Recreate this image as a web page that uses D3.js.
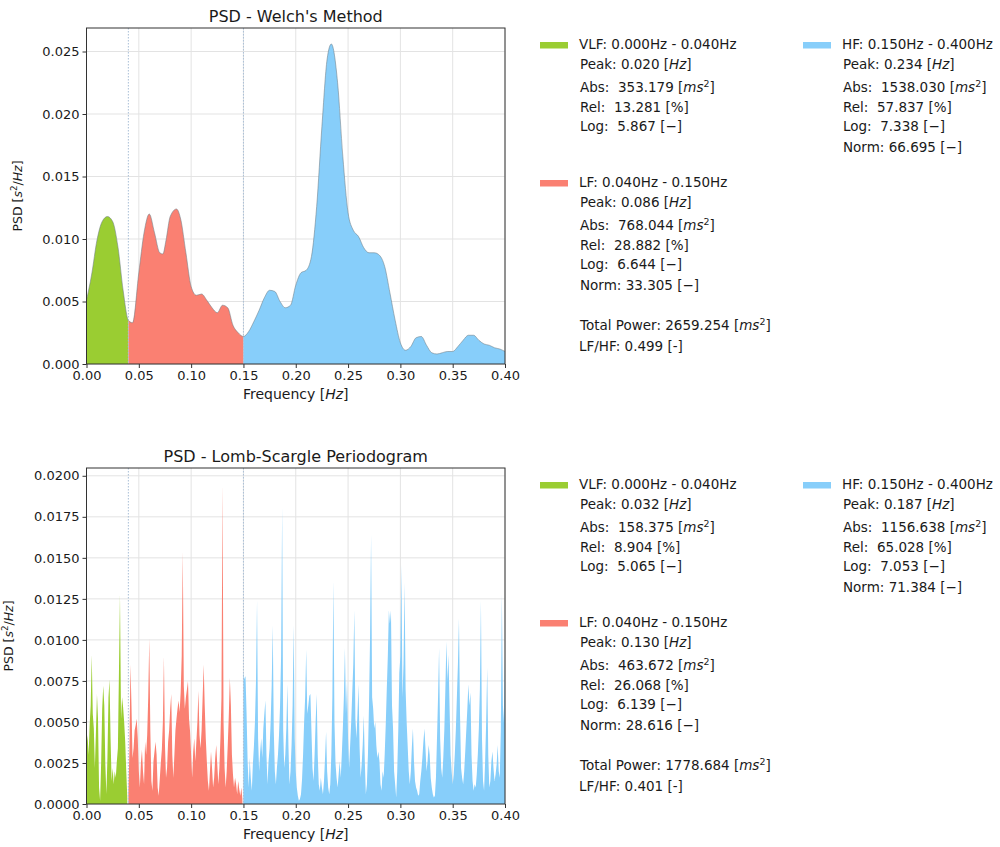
<!DOCTYPE html>
<html>
<head>
<meta charset="utf-8">
<script src="https://cdn.jsdelivr.net/npm/d3@7"></script>
<style>
  body { margin: 0; background: #fff; }
  svg text { font-family: "DejaVu Sans", sans-serif; fill: #1a1a1a; white-space: pre; }
</style>
</head>
<body>
<svg id="chart" width="1000" height="847"></svg>
<script>
// ---- data -------------------------------------------------------------
const freqTicks = [0.00, 0.05, 0.10, 0.15, 0.20, 0.25, 0.30, 0.35, 0.40];
const welchTicks = [0.000, 0.005, 0.010, 0.015, 0.020, 0.025];
const lombTicks = [0.0000, 0.0025, 0.0050, 0.0075, 0.0100, 0.0125, 0.0150, 0.0175, 0.0200];

const bandNames = ["VLF", "LF", "HF"];
const bandLimits = [[0.000, 0.040], [0.040, 0.150], [0.150, 0.400]];

// Welch spectrum [Hz] / [s^2/Hz]
const welchFreq = [0.000, 0.005, 0.010, 0.015, 0.020, 0.025, 0.030, 0.035, 0.040, 0.044,
  0.050, 0.055, 0.060, 0.065, 0.070, 0.073, 0.076, 0.080, 0.086, 0.090,
  0.095, 0.100, 0.105, 0.110, 0.115, 0.120, 0.125, 0.130, 0.135, 0.140,
  0.145, 0.150, 0.155, 0.160, 0.165, 0.170, 0.175, 0.180, 0.185, 0.190,
  0.195, 0.200, 0.205, 0.210, 0.215, 0.220, 0.225, 0.230, 0.234, 0.240,
  0.245, 0.250, 0.255, 0.260, 0.265, 0.270, 0.275, 0.280, 0.285, 0.290,
  0.295, 0.300, 0.305, 0.310, 0.315, 0.320, 0.325, 0.330, 0.335, 0.340,
  0.345, 0.350, 0.355, 0.360, 0.365, 0.370, 0.375, 0.380, 0.385, 0.390,
  0.395, 0.400];
const welchPsd = [0.0051, 0.0072, 0.0099, 0.0114, 0.0118, 0.0114, 0.0094, 0.0059, 0.0035, 0.0033,
  0.0073, 0.0105, 0.0120, 0.0105, 0.0089, 0.0088, 0.0099, 0.0118, 0.0124, 0.0116,
  0.0089, 0.0062, 0.0055, 0.0056, 0.0051, 0.0045, 0.0041, 0.0047, 0.0045, 0.0031,
  0.0025, 0.0022, 0.0026, 0.0034, 0.0043, 0.0053, 0.0059, 0.0058, 0.0050, 0.0045,
  0.0047, 0.0063, 0.0073, 0.0075, 0.0086, 0.0126, 0.0190, 0.0244, 0.0256, 0.0225,
  0.0166, 0.0121, 0.0107, 0.0102, 0.0093, 0.0089, 0.0089, 0.0087, 0.0078, 0.0057,
  0.0035, 0.0017, 0.0011, 0.0014, 0.0021, 0.0022, 0.0015, 0.0009, 0.0008, 0.0009,
  0.0010, 0.0010, 0.0014, 0.0019, 0.0023, 0.0023, 0.0019, 0.0016, 0.0015, 0.0013,
  0.0012, 0.0010];

// Lomb-Scargle spectrum, one value every 0.001 Hz from 0.000 to 0.400 Hz
const lombStep = 0.001;
const lombPsd = [
  0.0035,0.0042,0.0030,0.0048,0.0060,0.0091,0.0055,0.0046,0.0022,0.0044,
  0.0067,0.0052,0.0010,0.0002,0.0025,0.0058,0.0072,0.0060,0.0024,0.0006,
  0.0028,0.0065,0.0076,0.0040,0.0014,0.0022,0.0012,0.0020,0.0016,0.0026,
  0.0034,0.0080,0.0128,0.0052,0.0065,0.0059,0.0050,0.0038,0.0020,0.0004,
  0.0006,0.0032,0.0085,0.0060,0.0028,0.0034,0.0045,0.0048,0.0052,0.0040,
  0.0020,0.0010,0.0025,0.0033,0.0020,0.0012,0.0038,0.0030,0.0042,0.0065,
  0.0101,0.0045,0.0014,0.0008,0.0026,0.0032,0.0038,0.0030,0.0010,0.0005,
  0.0015,0.0025,0.0033,0.0050,0.0090,0.0036,0.0016,0.0022,0.0038,0.0045,
  0.0058,0.0067,0.0030,0.0016,0.0030,0.0045,0.0052,0.0058,0.0063,0.0056,
  0.0068,0.0090,0.0154,0.0072,0.0058,0.0065,0.0070,0.0075,0.0052,0.0044,
  0.0030,0.0016,0.0032,0.0040,0.0026,0.0038,0.0050,0.0069,0.0042,0.0034,
  0.0045,0.0065,0.0085,0.0060,0.0040,0.0026,0.0014,0.0008,0.0020,0.0032,
  0.0022,0.0010,0.0016,0.0028,0.0036,0.0024,0.0012,0.0022,0.0040,0.0065,
  0.0195,0.0050,0.0022,0.0010,0.0020,0.0036,0.0054,0.0077,0.0060,0.0030,
  0.0018,0.0010,0.0016,0.0012,0.0006,0.0014,0.0009,0.0005,0.0010,0.0003,
  0.0080,0.0076,0.0078,0.0055,0.0026,0.0010,0.0028,0.0016,0.0008,0.0024,
  0.0035,0.0050,0.0075,0.0124,0.0040,0.0020,0.0032,0.0040,0.0028,0.0046,
  0.0055,0.0063,0.0030,0.0012,0.0026,0.0034,0.0050,0.0072,0.0109,0.0045,
  0.0020,0.0012,0.0022,0.0030,0.0042,0.0060,0.0090,0.0181,0.0045,0.0022,
  0.0030,0.0046,0.0073,0.0036,0.0012,0.0020,0.0036,0.0060,0.0109,0.0040,
  0.0020,0.0010,0.0005,0.0002,0.0003,0.0006,0.0015,0.0030,0.0050,0.0065,
  0.0094,0.0055,0.0060,0.0066,0.0067,0.0045,0.0022,0.0014,0.0030,0.0050,
  0.0067,0.0030,0.0012,0.0008,0.0016,0.0010,0.0006,0.0014,0.0028,0.0044,
  0.0020,0.0010,0.0006,0.0012,0.0030,0.0065,0.0136,0.0050,0.0025,0.0016,
  0.0010,0.0018,0.0026,0.0016,0.0030,0.0046,0.0065,0.0095,0.0055,0.0075,
  0.0040,0.0022,0.0036,0.0050,0.0068,0.0085,0.0118,0.0052,0.0040,0.0055,
  0.0073,0.0035,0.0016,0.0024,0.0036,0.0054,0.0026,0.0006,0.0012,0.0030,
  0.0060,0.0100,0.0164,0.0065,0.0058,0.0046,0.0050,0.0036,0.0028,0.0032,
  0.0026,0.0012,0.0008,0.0020,0.0016,0.0030,0.0048,0.0070,0.0090,0.0118,
  0.0110,0.0118,0.0060,0.0046,0.0020,0.0012,0.0004,0.0020,0.0045,0.0080,
  0.0090,0.0146,0.0065,0.0085,0.0135,0.0070,0.0050,0.0035,0.0020,0.0012,
  0.0020,0.0035,0.0046,0.0026,0.0014,0.0010,0.0008,0.0005,0.0006,0.0014,
  0.0020,0.0028,0.0038,0.0046,0.0034,0.0020,0.0026,0.0036,0.0030,0.0016,
  0.0010,0.0006,0.0004,0.0005,0.0016,0.0040,0.0065,0.0095,0.0040,0.0022,
  0.0016,0.0028,0.0045,0.0070,0.0099,0.0075,0.0091,0.0060,0.0030,0.0020,
  0.0012,0.0018,0.0030,0.0045,0.0065,0.0085,0.0113,0.0055,0.0022,0.0016,
  0.0012,0.0020,0.0032,0.0045,0.0058,0.0073,0.0060,0.0068,0.0030,0.0014,
  0.0008,0.0012,0.0010,0.0018,0.0030,0.0046,0.0070,0.0124,0.0040,0.0014,
  0.0008,0.0026,0.0050,0.0083,0.0030,0.0010,0.0014,0.0026,0.0032,0.0022,
  0.0014,0.0018,0.0024,0.0036,0.0020,0.0016,0.0045,0.0128,0.0060,0.0050,
  0.0090];

// Band parameters (VLF, LF, HF)
const welchPeak = [0.020, 0.086, 0.234];
const welchAbs = [353.179, 768.044, 1538.030];
const welchRel = [13.281, 28.882, 57.837];
const welchLog = [5.867, 6.644, 7.338];
const welchNorm = [null, 33.305, 66.695];
const welchTotal = 2659.254;
const welchRatio = 0.499;

const lombPeak = [0.032, 0.130, 0.187];
const lombAbs = [158.375, 463.672, 1156.638];
const lombRel = [8.904, 26.068, 65.028];
const lombLog = [5.065, 6.139, 7.053];
const lombNorm = [null, 28.616, 71.384];
const lombTotal = 1778.684;
const lombRatio = 0.401;

// ---- styles / layout --------------------------------------------------
const bandColors = ["#9acd32", "#fa8072", "#87cefa"];
const plotLeft = 86.5, plotRight = 505, plotH = 336;
const panelTops = [28, 468];

const svg = d3.select("#chart");
const defs = svg.append("defs");

// helper: text made of plain / italic / superscript runs
function richText(sel, parts) {
  parts.forEach(p => {
    const t = sel.append("tspan").text(p.t);
    if (p.i) t.attr("font-style", "italic");
    if (p.sup) t.attr("font-size", "70%").attr("dy", -5);
    if (p.back) t.attr("dy", 5);
  });
  return sel;
}

function drawPanel(idx, cfg) {
  const top = panelTops[idx];
  const g = svg.append("g");
  const x = d3.scaleLinear().domain([0, 0.4]).range([plotLeft, plotRight]);
  const ymax = d3.max(cfg.values) * 1.05;
  const y = d3.scaleLinear().domain([0, ymax]).range([top + plotH, top]);

  const clipId = "clip" + idx;
  defs.append("clipPath").attr("id", clipId).append("rect")
    .attr("x", plotLeft).attr("y", top).attr("width", plotRight - plotLeft).attr("height", plotH);

  // grid
  const grid = g.append("g").attr("stroke", "#e3e3e3").attr("stroke-width", 1);
  freqTicks.forEach(t => grid.append("line").attr("x1", x(t)).attr("x2", x(t)).attr("y1", top).attr("y2", top + plotH));
  cfg.yTicks.forEach(t => grid.append("line").attr("x1", plotLeft).attr("x2", plotRight).attr("y1", y(t)).attr("y2", y(t)));

  const marks = g.append("g").attr("clip-path", `url(#${clipId})`);
  cfg.drawMarks(marks, x, y, idx);

  // band boundaries
  [bandLimits[0][1], bandLimits[1][1]].forEach(b => {
    g.append("line").attr("x1", x(b)).attr("x2", x(b)).attr("y1", top).attr("y2", top + plotH)
      .attr("stroke", "#a9bfd6").attr("stroke-width", 1).attr("stroke-dasharray", "1.5,1.5");
  });

  // axes
  const xAxis = d3.axisBottom(x).tickValues(freqTicks).tickFormat(d3.format(".2f")).tickSize(4).tickPadding(3);
  const yAxis = d3.axisLeft(y).tickValues(cfg.yTicks).tickFormat(d3.format(cfg.yFormat)).tickSize(4).tickPadding(3);
  const gx = g.append("g").attr("transform", `translate(0,${top + plotH})`).call(xAxis);
  const gy = g.append("g").attr("transform", `translate(${plotLeft},0)`).call(yAxis);
  [gx, gy].forEach(a => {
    a.select(".domain").remove();
    a.selectAll(".tick line").attr("stroke", "#333");
    a.selectAll(".tick text").attr("font-size", 13).attr("fill", "#1a1a1a")
      .attr("font-family", '"DejaVu Sans", sans-serif');
  });

  // frame
  g.append("rect").attr("x", plotLeft).attr("y", top).attr("width", plotRight - plotLeft).attr("height", plotH)
    .attr("fill", "none").attr("stroke", "#333").attr("stroke-width", 1);

  // title and labels
  g.append("text").attr("x", (plotLeft + plotRight) / 2).attr("y", top - 6.5)
    .attr("text-anchor", "middle").attr("font-size", 16).text(cfg.title);
  richText(g.append("text").attr("x", (plotLeft + plotRight) / 2).attr("y", top + plotH + 35)
    .attr("text-anchor", "middle").attr("font-size", 14),
    [{t: "Frequency ["}, {t: "Hz", i: true}, {t: "]"}]);
  richText(g.append("text").attr("transform", `translate(${cfg.yLabelX},${top + plotH / 2}) rotate(-90)`)
    .attr("text-anchor", "middle").attr("font-size", 12.5),
    [{t: "PSD ["}, {t: "s", i: true}, {t: "2", sup: true}, {t: "/", back: true}, {t: "Hz", i: true}, {t: "]"}]);

  drawLegend(top, cfg.stats);
}

function drawLegend(top, s) {
  const dy = top - 28;
  const lineOff = [0, 19.5, 42.5, 62.5, 82, 102.5];
  const blocks = [
    {band: 0, px: 540, tx: 580, base: 49},
    {band: 1, px: 540, tx: 580, base: 187},
    {band: 2, px: 803, tx: 843, base: 49}
  ];
  const lg = svg.append("g").attr("font-size", 13.5);
  blocks.forEach(b => {
    const k = b.band, y0 = b.base + dy;
    lg.append("rect").attr("x", b.px).attr("y", y0 - 7).attr("width", 28).attr("height", 6.5)
      .attr("fill", bandColors[k]);
    const lim = bandLimits[k];
    const rows = [
      [{t: `${bandNames[k]}: ${lim[0].toFixed(3)}Hz - ${lim[1].toFixed(3)}Hz`}],
      [{t: `Peak: ${s.peak[k].toFixed(3)} [`}, {t: "Hz", i: true}, {t: "]"}],
      [{t: `Abs:  ${s.abs[k].toFixed(3)} [`}, {t: "ms", i: true}, {t: "2", sup: true}, {t: "]", back: true}],
      [{t: `Rel:  ${s.rel[k].toFixed(3)} [%]`}],
      [{t: `Log:  ${s.log[k].toFixed(3)} [\u2212]`}]
    ];
    if (s.norm[k] !== null) rows.push([{t: `Norm: ${s.norm[k].toFixed(3)} [\u2212]`}]);
    rows.forEach((r, i) => {
      const xx = i === 0 ? b.tx - 1 : b.tx;
      richText(lg.append("text").attr("x", xx).attr("y", y0 + lineOff[i]), r);
    });
    if (k === 1) {
      richText(lg.append("text").attr("x", b.tx).attr("y", y0 + 143),
        [{t: `Total Power: ${s.total.toFixed(3)} [`}, {t: "ms", i: true}, {t: "2", sup: true}, {t: "]", back: true}]);
      lg.append("text").attr("x", b.tx - 1).attr("y", y0 + 163.7).text(`LF/HF: ${s.ratio.toFixed(3)} [-]`);
    }
  });
}

// ---- Welch panel: smooth curve, band-coloured fills ------------------
const welchPoints = welchFreq.map((f, i) => ({f, v: welchPsd[i]}));
drawPanel(0, {
  title: "PSD - Welch's Method",
  values: welchPsd,
  yTicks: welchTicks,
  yFormat: ".3f",
  yLabelX: 22,
  stats: {peak: welchPeak, abs: welchAbs, rel: welchRel, log: welchLog, norm: welchNorm, total: welchTotal, ratio: welchRatio},
  drawMarks(g, x, y, idx) {
    const area = d3.area().x(d => x(d.f)).y0(y(0)).y1(d => y(d.v)).curve(d3.curveMonotoneX);
    bandLimits.forEach((lim, k) => {
      const id = `band${idx}_${k}`;
      defs.append("clipPath").attr("id", id).append("rect")
        .attr("x", x(lim[0])).attr("y", 0).attr("width", x(lim[1]) - x(lim[0])).attr("height", 847);
      g.append("path").datum(welchPoints).attr("d", area)
        .attr("fill", bandColors[k]).attr("clip-path", `url(#${id})`);
    });
    const line = d3.line().x(d => x(d.f)).y(d => y(d.v)).curve(d3.curveMonotoneX);
    g.append("path").datum(welchPoints).attr("d", line)
      .attr("fill", "none").attr("stroke", "#6f7f88").attr("stroke-width", 0.7).attr("stroke-opacity", 0.8);
  }
});

// ---- Lomb-Scargle panel: raw periodogram per band --------------------
const lombPoints = lombPsd.map((v, i) => ({i, f: i * lombStep, v}));
drawPanel(1, {
  title: "PSD - Lomb-Scargle Periodogram",
  values: lombPsd,
  yTicks: lombTicks,
  yFormat: ".4f",
  yLabelX: 13,
  stats: {peak: lombPeak, abs: lombAbs, rel: lombRel, log: lombLog, norm: lombNorm, total: lombTotal, ratio: lombRatio},
  drawMarks(g, x, y) {
    const area = d3.area().x(d => x(d.f)).y0(y(0)).y1(d => y(d.v));
    const lo = [0, 40, 150], hi = [40, 150, 401];
    bandLimits.forEach((lim, k) => {
      const pts = lombPoints.filter(d => d.i >= lo[k] && d.i < hi[k]);
      g.append("path").datum(pts).attr("d", area).attr("fill", bandColors[k]);
    });
  }
});
</script>
</body>
</html>
